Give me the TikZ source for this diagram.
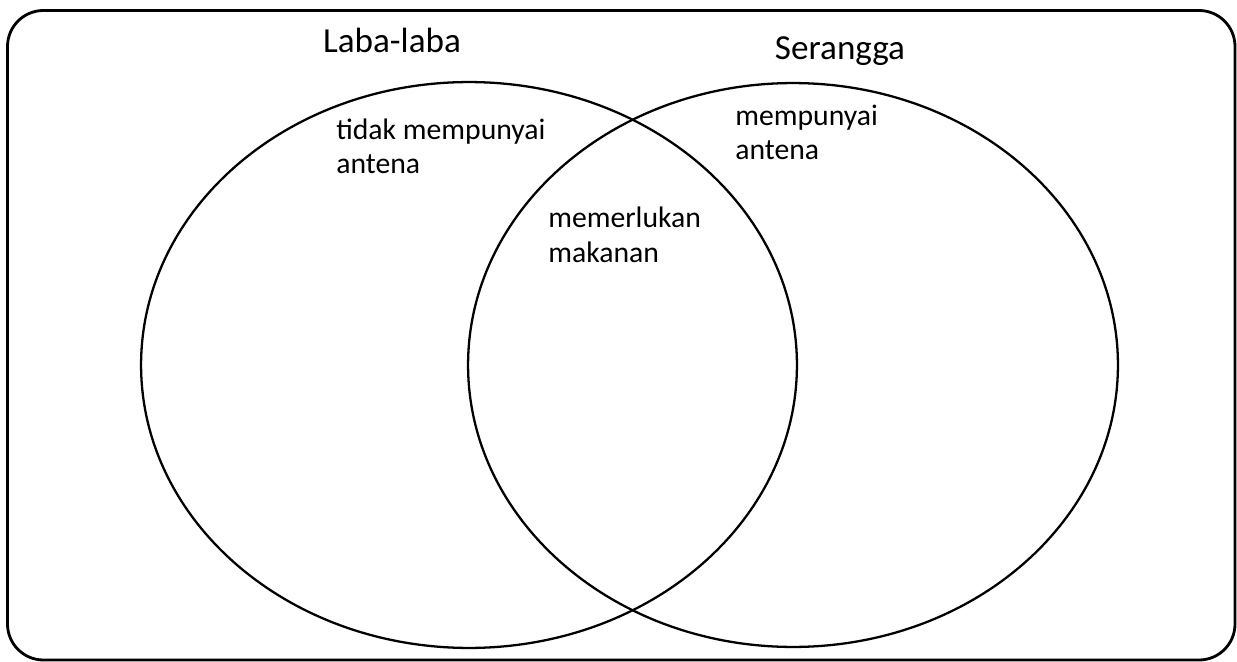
\documentclass[tikz,border=0pt]{standalone}
\usepackage{fontspec}
\setmainfont{Carlito}
\usetikzlibrary{shapes.geometric}

\begin{document}
\begin{tikzpicture}[x=0.02cm, y=-0.02cm,
  set/.style={draw=black, line width=1.3pt, ellipse, inner sep=0pt},
  settitle/.style={font=\fontsize{20}{24}\selectfont, anchor=base, inner sep=0pt},
  trait/.style={font=\fontsize{16.9}{19.4}\selectfont, align=left, anchor=base west, inner sep=0pt}]
\useasboundingbox (0,0) rectangle (1237,662);
\draw[black, line width=1.6pt, rounded corners=0.72cm] (7.5,10.5) rectangle (1235,660);
\node[set, minimum width=13.12cm, minimum height=11.32cm] (laba) at (469,365) {};
\node[set, minimum width=13.0cm, minimum height=11.28cm] (serangga) at (793,365) {};
% judul himpunan
\node[settitle] (labatitle) at (392,53) {Laba-laba};
\node[settitle] (serangatitle) at (840,60) {Serangga};
% ciri-ciri (anchor pada baris terakhir)
\node[trait] (tidak) at (336,174) {tidak mempunyai\\antena};
\node[trait] (punya) at (735,160) {mempunyai\\antena};
\node[trait] (makan) at (548,262) {memerlukan\\makanan};
\end{tikzpicture}
\end{document}
